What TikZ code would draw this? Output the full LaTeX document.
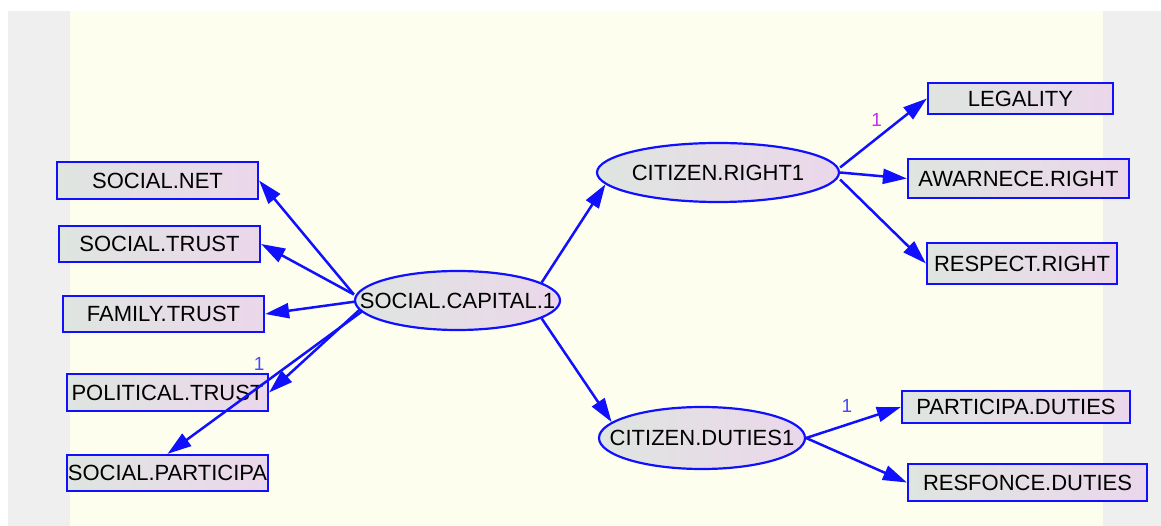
\documentclass[tikz,border=0pt]{standalone}
\usepackage{fontspec}
\setmainfont{Liberation Sans}
\usetikzlibrary{shapes.geometric,arrows.meta,positioning}
\definecolor{varleft}{HTML}{DFE5E0}
\definecolor{varright}{HTML}{EBD7EB}
\definecolor{amosblue}{HTML}{1010FF}
\definecolor{canvas}{HTML}{FDFEEE}
\definecolor{frame}{HTML}{EFEFF0}
\definecolor{coefpurple}{HTML}{C030F0}
\definecolor{coefblue}{HTML}{4848FF}
\tikzset{
observed/.style={draw=amosblue, line width=2.2pt, left color=varleft, right color=varright,
  inner sep=0pt, minimum height=37pt, font=\fontsize{22}{24}\selectfont}, % measured variables
latent/.style={ellipse, draw=amosblue, line width=2.2pt, left color=varleft, right color=varright,
  inner sep=0pt, minimum height=59pt, font=\fontsize{22}{24}\selectfont}, % factors
coef/.style={text=coefblue, inner sep=0pt, font=\fontsize{19}{19}\selectfont}, % fixed loadings
}

\begin{document}
\begin{tikzpicture}[x=1pt,y=-1pt,>={Triangle[length=24pt,width=15pt]},
  every edge/.style={draw=amosblue, line width=2.5pt}]
   \useasboundingbox (0,0) rectangle (1161,526);
   \fill[white] (0,0) rectangle (1161,526);
   \fill[frame] (8,11) rectangle (1161,526);
   \fill[canvas] (70,11) rectangle (1103,526);
   % left indicators
   \node[observed, minimum width=201pt] (net) at (157.5,180.5) {SOCIAL.NET};
   \node[observed, minimum width=201pt, minimum height=36pt] (trust) at (159.5,244) {SOCIAL.TRUST};
   \node[observed, minimum width=201pt, minimum height=36pt] (family) at (163.5,314) {FAMILY.TRUST};
   \node[observed, minimum width=201pt] (political) at (167.5,392.5) {POLITICAL.TRUST};
   \node[observed, minimum width=201pt, minimum height=36pt] (particip) at (167.5,473) {SOCIAL.PARTICIPA};
   % factors
   \node[latent, minimum width=205pt] (capital) at (457.5,300.5) {\makebox[0pt]{SOCIAL.CAPITAL.1}};
   \node[latent, minimum width=242pt] (right) at (718,172.5) {\makebox[0pt]{CITIZEN.RIGHT1}};
   \node[latent, minimum width=206pt, minimum height=62pt] (duties) at (702,438) {\makebox[0pt]{CITIZEN.DUTIES1}};
   % right indicators
   \node[observed, minimum width=185pt, minimum height=31pt] (legality) at (1020.5,98.5) {LEGALITY};
   \node[observed, minimum width=221pt, minimum height=39pt] (awarnece) at (1018.5,178.5) {AWARNECE.RIGHT};
   \node[observed, minimum width=190pt, minimum height=41pt] (respect) at (1022,263.5) {RESPECT.RIGHT};
   \node[observed, minimum width=228pt, minimum height=32pt] (partduty) at (1016,407) {PARTICIPA.DUTIES};
   \node[observed, minimum width=239pt] (resduty) at (1027.5,482.5) {RESFONCE.DUTIES};
    \path[->]
    ([yshift=6pt]capital.west) edge (net.east)
    ([yshift=6pt]capital.west) edge (trust.east)
    ([xshift=2pt,yshift=-1pt]capital.west) edge (family.east)
    ([xshift=6pt,yshift=-9pt]capital.west) edge (political.east)
    ([xshift=8pt,yshift=-11pt]capital.west) edge (particip.north)
    (capital.12) edge (right.186)
    (capital.-12) edge (duties.170)
    ([yshift=5pt]right.east) edge node[coef, text=coefpurple, pos=0.42, above=11pt] {1} (legality.west)
    (right.east) edge (awarnece.west)
    ([yshift=-7pt]right.east) edge (respect.west)
    (duties.east) edge node[coef, pos=0.43, above=11pt] {1} (partduty.west)
    (duties.east) edge (resduty.west);
   \node[coef] at ([xshift=-10pt,yshift=9pt]political.north east) {1};
\end{tikzpicture}
\end{document}
